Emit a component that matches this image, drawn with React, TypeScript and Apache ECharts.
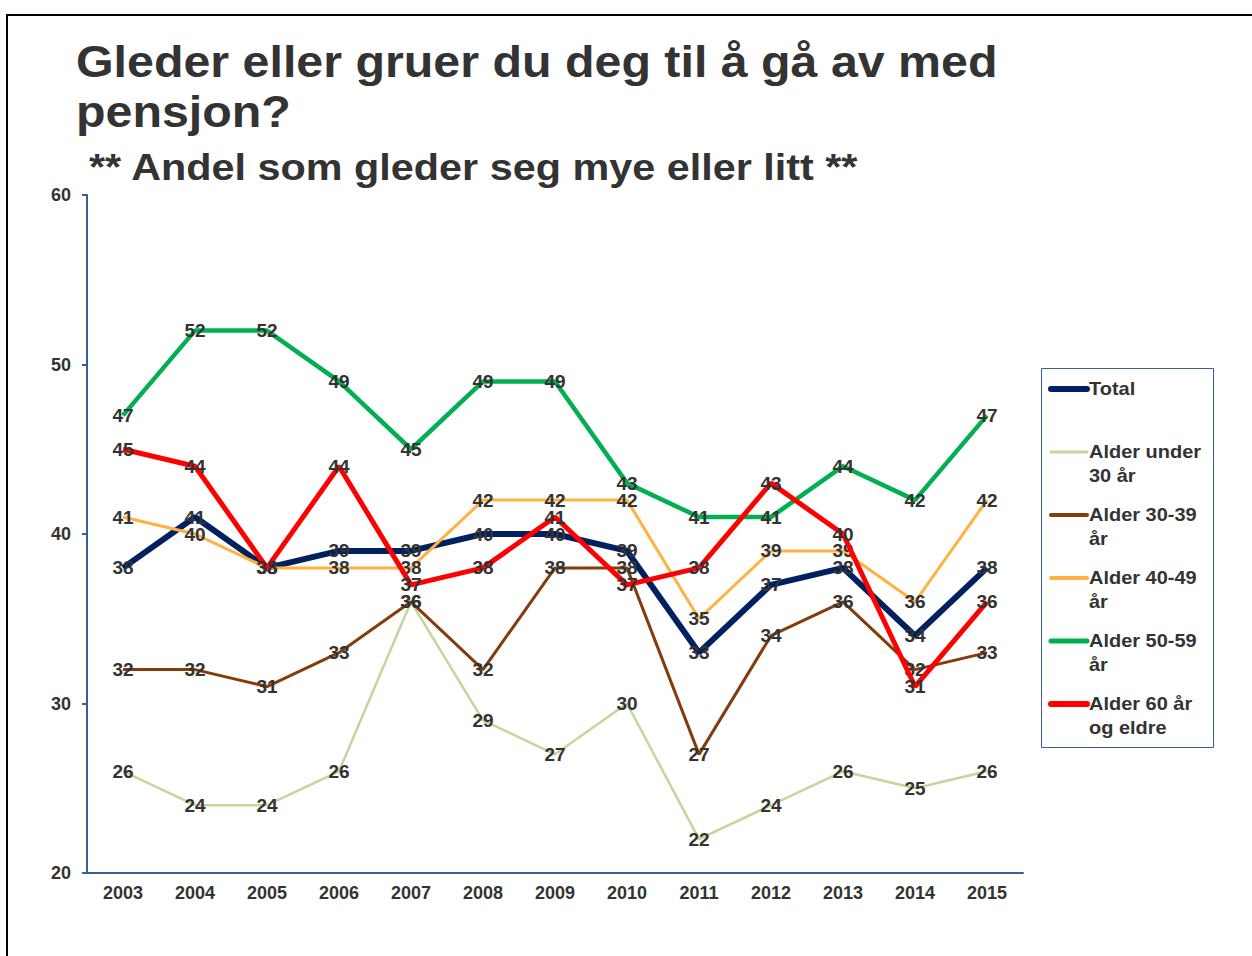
import React, { useEffect, useRef } from "react";
import * as echarts from "echarts";

const years = ["2003", "2004", "2005", "2006", "2007", "2008", "2009", "2010", "2011", "2012", "2013", "2014", "2015"];
const total = [38, 41, 38, 39, 39, 40, 40, 39, 33, 37, 38, 34, 38];
const under30 = [26, 24, 24, 26, 36, 29, 27, 30, 22, 24, 26, 25, 26];
const age30 = [32, 32, 31, 33, 36, 32, 38, 38, 27, 34, 36, 32, 33];
const age40 = [41, 40, 38, 38, 38, 42, 42, 42, 35, 39, 39, 36, 42];
const age50 = [47, 52, 52, 49, 45, 49, 49, 43, 41, 41, 44, 42, 47];
const age60 = [45, 44, 38, 44, 37, 38, 41, 37, 38, 43, 40, 31, 36];

const seriesNames = ["Total", "Alder under 30 år", "Alder 30-39 år", "Alder 40-49 år", "Alder 50-59 år", "Alder 60 år og eldre"];
const legendLabels = ["Total", "Alder under\n30 år", "Alder 30-39\når", "Alder 40-49\når", "Alder 50-59\når", "Alder 60 år\nog eldre"];
const seriesData = [total, under30, age30, age40, age50, age60];
const colors = ["#002060", "#c3d69b", "#843c0c", "#ffb142", "#00b050", "#ff0000"];
const lineWidths = [6, 2.5, 3, 3, 4.5, 5];
const legendWidths = [6, 3, 4, 4, 5, 6];

const titleText = "Gleder eller gruer du deg til å gå av med\npensjon?";
const subtitleText = "** Andel som gleder seg mye eller litt **";

const FONT = '"Liberation Sans", Arial, Helvetica, sans-serif';
const TEXT = "#333333";
const AXIS = "#3a5f94";

export default function App() {
  const ref = useRef<HTMLDivElement>(null);
  useEffect(() => {
    if (!ref.current) return;
    const chart = echarts.init(ref.current, undefined, { renderer: "svg" });

    const legendItems: any[] = [];
    legendLabels.forEach((lab, i) => {
      const cy = 389 + i * 63;
      legendItems.push({
        type: "line",
        shape: { x1: 1051, y1: cy, x2: 1087, y2: cy },
        style: { stroke: colors[i], lineWidth: legendWidths[i], lineCap: "round" },
        z: 101,
      });
      legendItems.push({
        type: "text",
        x: 1089,
        y: cy - 12,
        scaleX: 1.11,
        style: {
          text: lab,
          fontSize: 18,
          fontWeight: "bold",
          fontFamily: FONT,
          fill: TEXT,
          lineHeight: 24,
          verticalAlign: "top",
          align: "left",
        },
        z: 101,
      });
    });

    chart.setOption({
      animation: false,
      backgroundColor: "#ffffff",
      textStyle: { fontFamily: FONT },
      grid: { left: 87, top: 195, right: 229, bottom: 83, containLabel: false },
      xAxis: {
        type: "category",
        data: years,
        boundaryGap: true,
        axisLine: { lineStyle: { color: AXIS, width: 2 } },
        axisTick: { show: false },
        axisLabel: { color: TEXT, fontWeight: "bold", fontSize: 18, margin: 11, fontFamily: FONT },
        splitLine: { show: false },
      },
      yAxis: {
        type: "value",
        min: 20,
        max: 60,
        interval: 10,
        axisLine: { show: true, lineStyle: { color: AXIS, width: 2 } },
        axisTick: { show: true, length: 5, lineStyle: { color: AXIS, width: 2 } },
        axisLabel: { color: TEXT, fontWeight: "bold", fontSize: 18, margin: 16, fontFamily: FONT },
        splitLine: { show: false },
      },
      graphic: [
        { type: "line", shape: { x1: 6, y1: 15, x2: 1252, y2: 15 }, style: { stroke: "#000", lineWidth: 2 } },
        { type: "line", shape: { x1: 7, y1: 15, x2: 7, y2: 956 }, style: { stroke: "#000", lineWidth: 2 } },
        {
          type: "text",
          x: 76,
          y: 37,
          scaleX: 1.099,
          style: {
            text: titleText,
            fontSize: 44,
            fontWeight: "bold",
            fontFamily: FONT,
            fill: TEXT,
            lineHeight: 50,
            verticalAlign: "top",
            align: "left",
          },
        },
        {
          type: "text",
          x: 89,
          y: 167,
          scaleX: 1.118,
          style: {
            text: subtitleText,
            fontSize: 37,
            fontWeight: "bold",
            fontFamily: FONT,
            fill: TEXT,
            verticalAlign: "middle",
            align: "left",
          },
        },
        {
          type: "rect",
          shape: { x: 1041.5, y: 368.5, width: 172, height: 379 },
          style: { fill: "#ffffff", stroke: AXIS, lineWidth: 1 },
          z: 100,
        },
        ...legendItems,
      ],
      series: seriesNames.map((name, i) => ({
        name,
        type: "line",
        data: seriesData[i],
        symbol: "circle",
        symbolSize: 0,
        showSymbol: true,
        lineStyle: { color: colors[i], width: lineWidths[i] },
        itemStyle: { color: colors[i] },
        emphasis: { disabled: true },
        z: 2 + i,
        label: {
          show: true,
          position: "inside",
          color: TEXT,
          fontWeight: "bold",
          fontSize: 19,
          fontFamily: FONT,
        },
      })),
    });
    return () => chart.dispose();
  }, []);
  return (
    <div
      ref={ref}
      style={{ position: "absolute", left: 0, top: 0, width: 1252, height: 956, background: "#fff" }}
    />
  );
}
